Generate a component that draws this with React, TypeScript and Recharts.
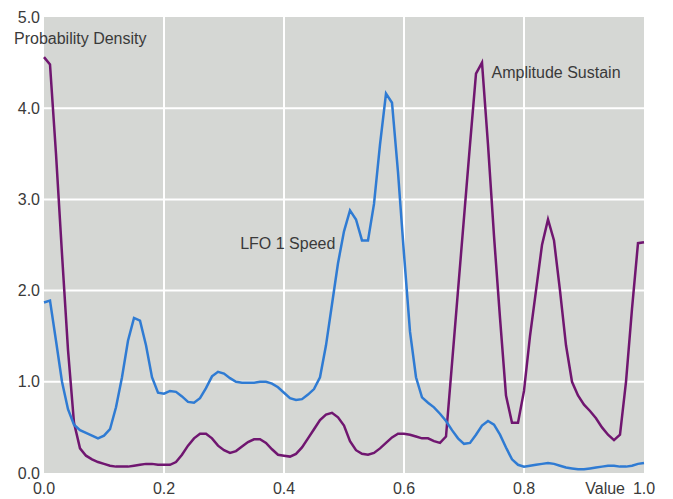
import React from 'react';
import { LineChart, Line, XAxis, YAxis, CartesianGrid, ReferenceDot } from 'recharts';

const xValues = [
  0.0, 0.01, 0.02, 0.03, 0.04, 0.05, 0.06, 0.07, 0.08, 0.09,
  0.1, 0.11, 0.12, 0.13, 0.14, 0.15, 0.16, 0.17, 0.18, 0.19,
  0.2, 0.21, 0.22, 0.23, 0.24, 0.25, 0.26, 0.27, 0.28, 0.29,
  0.3, 0.31, 0.32, 0.33, 0.34, 0.35, 0.36, 0.37, 0.38, 0.39,
  0.4, 0.41, 0.42, 0.43, 0.44, 0.45, 0.46, 0.47, 0.48, 0.49,
  0.5, 0.51, 0.52, 0.53, 0.54, 0.55, 0.56, 0.57, 0.58, 0.59,
  0.6, 0.61, 0.62, 0.63, 0.64, 0.65, 0.66, 0.67, 0.68, 0.69,
  0.7, 0.71, 0.72, 0.73, 0.74, 0.75, 0.76, 0.77, 0.78, 0.79,
  0.8, 0.81, 0.82, 0.83, 0.84, 0.85, 0.86, 0.87, 0.88, 0.89,
  0.9, 0.91, 0.92, 0.93, 0.94, 0.95, 0.96, 0.97, 0.98, 0.99,
  1.0,
];

const lfoSpeed = [
  1.87, 1.89, 1.45, 1.0, 0.7, 0.53, 0.47, 0.44, 0.41, 0.38,
  0.41, 0.48, 0.72, 1.05, 1.45, 1.7, 1.67, 1.4, 1.05, 0.88,
  0.87, 0.9, 0.89, 0.84, 0.78, 0.77, 0.82, 0.93, 1.06, 1.11,
  1.09, 1.04, 1.0, 0.99, 0.99, 0.99, 1.0, 1.0, 0.98, 0.94,
  0.88, 0.82, 0.8, 0.81, 0.86, 0.92, 1.05, 1.4, 1.85, 2.3,
  2.65, 2.88, 2.78, 2.55, 2.55, 2.95, 3.6, 4.16, 4.06, 3.3,
  2.4, 1.55, 1.05, 0.83, 0.77, 0.72, 0.65, 0.57, 0.47, 0.38,
  0.32, 0.33, 0.42, 0.52, 0.57, 0.53, 0.42, 0.28, 0.15, 0.09,
  0.07, 0.08, 0.09, 0.1, 0.11, 0.1, 0.08, 0.06, 0.05, 0.04,
  0.04, 0.05, 0.06, 0.07, 0.08, 0.08, 0.07, 0.07, 0.08, 0.1,
  0.11,
];

const amplitudeSustain = [
  4.56, 4.48, 3.5, 2.4, 1.35, 0.55, 0.27, 0.19, 0.15, 0.12,
  0.1, 0.08, 0.07, 0.07, 0.07, 0.08, 0.09, 0.1, 0.1, 0.09,
  0.09, 0.09, 0.12, 0.2, 0.3, 0.38, 0.43, 0.43, 0.38, 0.3,
  0.25, 0.22, 0.24, 0.29, 0.34, 0.37, 0.37, 0.33, 0.26, 0.2,
  0.19, 0.18, 0.21, 0.28, 0.38, 0.48, 0.58, 0.64, 0.66, 0.61,
  0.52, 0.35, 0.25, 0.21, 0.2, 0.22, 0.27, 0.33, 0.39, 0.43,
  0.43, 0.42, 0.4, 0.38, 0.38, 0.35, 0.33, 0.4, 1.2, 2.0,
  2.8, 3.6, 4.38, 4.5, 3.6, 2.6, 1.7, 0.85, 0.55, 0.55,
  0.9, 1.5, 2.0, 2.5, 2.78, 2.55, 2.0, 1.4, 1.0, 0.85,
  0.75, 0.68, 0.6, 0.5, 0.42, 0.36, 0.42, 1.0, 1.8, 2.52,
  2.53,
];

const xTicks = [0, 0.2, 0.4, 0.6, 0.8, 1.0];
const yTicks = [0, 1, 2, 3, 4, 5];
const xGrid = [0.2, 0.4, 0.6, 0.8];
const yGrid = [1, 2, 3, 4];

const yTitle = 'Probability Density';
const xTitle = 'Value';
const lfoLabel = 'LFO 1 Speed';
const ampLabel = 'Amplitude Sustain';

const data = xValues.map((x, i) => ({
  x,
  lfo: lfoSpeed[i],
  amp: amplitudeSustain[i],
}));

const FONT = '"Liberation Sans", Arial, Helvetica, sans-serif';
const TEXT = '#3a3a3a';

const renderXTick = (props: any) => {
  const { x, y, payload } = props;
  const v = Number(payload.value);
  return (
    <g key={`xt-${v}`}>
      <text x={x} y={y} dy="0.71em" textAnchor="middle" fontSize={16} fill={TEXT} fontFamily={FONT}>
        {v.toFixed(1)}
      </text>
      {v === 1 && (
        <text x={x - 19} y={y} dy="0.71em" textAnchor="end" fontSize={16} fill={TEXT} fontFamily={FONT}>
          {xTitle}
        </text>
      )}
    </g>
  );
};

const renderYTick = (props: any) => {
  const { x, y, payload } = props;
  const v = Number(payload.value);
  return (
    <g key={`yt-${v}`}>
      <text x={x} y={y} dy="0.355em" textAnchor="end" fontSize={16} fill={TEXT} fontFamily={FONT}>
        {v.toFixed(1)}
      </text>
      {v === 5 && (
        <text x={x - 26} y={y + 21} dy="0.355em" textAnchor="start" fontSize={16} fill={TEXT} fontFamily={FONT}>
          {yTitle}
        </text>
      )}
    </g>
  );
};

const makeLabel = (text: string) => (props: any) => {
  const vb = props.viewBox || {};
  const cx = vb.x + (vb.width || 0) / 2;
  const cy = vb.y + (vb.height || 0) / 2;
  return (
    <text x={cx} y={cy} dy="0.355em" textAnchor="start" fontSize={16} fill={TEXT} fontFamily={FONT}>
      {text}
    </text>
  );
};

export default function App() {
  return (
    <div style={{ position: 'absolute', left: 0, top: 0, background: '#fff' }}>
      <LineChart
        width={673}
        height={499}
        data={data}
        margin={{ top: 17, right: 29, bottom: 0, left: 0 }}
      >
        <CartesianGrid
          fill="#d5d7d4"
          stroke="#ffffff"
          strokeWidth={2}
          horizontalValues={yGrid}
          verticalValues={xGrid}
        />
        <XAxis
          dataKey="x"
          type="number"
          domain={[0, 1]}
          ticks={xTicks}
          height={26}
          axisLine={false}
          tickLine={false}
          tickSize={0}
          tickMargin={10}
          tick={renderXTick}
          interval={0}
        />
        <YAxis
          type="number"
          domain={[0, 5]}
          ticks={yTicks}
          width={44}
          axisLine={false}
          tickLine={false}
          tickSize={0}
          tickMargin={4}
          tick={renderYTick}
          interval={0}
        />
        <Line
          type="linear"
          dataKey="amp"
          stroke="#701670"
          strokeWidth={2.5}
          dot={false}
          isAnimationActive={false}
        />
        <Line
          type="linear"
          dataKey="lfo"
          stroke="#2f7bd3"
          strokeWidth={2.5}
          dot={false}
          isAnimationActive={false}
        />
        <ReferenceDot x={0.327} y={2.52} r={0} fill="none" stroke="none" label={makeLabel(lfoLabel)} />
        <ReferenceDot x={0.746} y={4.39} r={0} fill="none" stroke="none" label={makeLabel(ampLabel)} />
      </LineChart>
    </div>
  );
}
